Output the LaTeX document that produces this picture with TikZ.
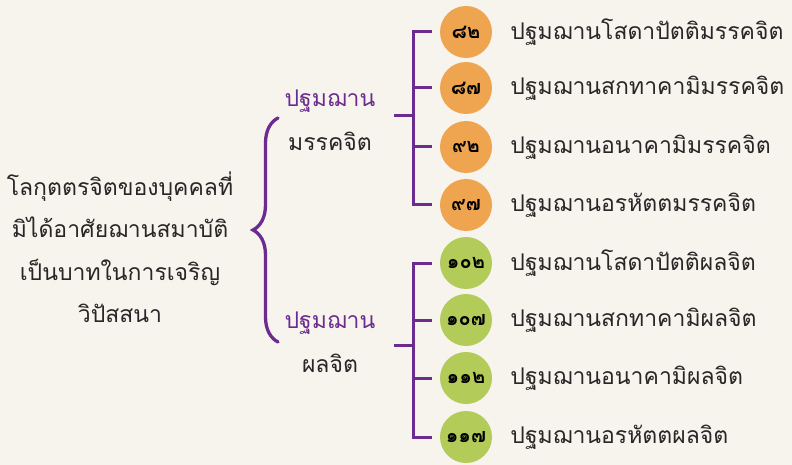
\documentclass[tikz,border=0pt]{standalone}
\usepackage{fontspec}
\newfontfamily\thaifont[Script=Thai]{Loma}
\usetikzlibrary{decorations.pathreplacing, positioning}
\definecolor{bgcream}{HTML}{F7F4EE}
\definecolor{darkpurple}{HTML}{6C2C8F}
\definecolor{orangeball}{HTML}{EFA550}
\definecolor{greenball}{HTML}{B3CB58}
\definecolor{inkgray}{HTML}{2A2627}
\tikzset{
	ball/.style={circle, minimum size=52pt, inner sep=0pt, font=\thaifont\fontsize{20}{20}\bfseries\selectfont},
	item/.style={anchor=west, inner sep=0pt, text=inkgray, font=\thaifont\fontsize{23}{27}\selectfont},
	head/.style={inner sep=0pt, text=darkpurple, font=\thaifont\fontsize{23}{27}\selectfont},
	tail/.style={inner sep=0pt, text=inkgray, font=\thaifont\fontsize{23}{27}\selectfont},
	fork/.style={darkpurple, line width=3pt},
}

\begin{document}
\begin{tikzpicture}[x=1pt, y=-1pt]
		\fill [bgcream] (0,0) rectangle (792,465);
		\useasboundingbox (0,0) rectangle (792,465);
		
		\node [align=center, inner sep=0pt, text=inkgray, font=\thaifont\fontsize{23}{42.5}\selectfont] (cause) at (120,247)
			{โลกุตตรจิตของบุคคลที่\\มิได้อาศัยฌานสมาบัติ\\เป็นบาทในการเจริญ\\วิปัสสนา};
		\draw [fork, line width=3.3pt, line cap=round, decorate, decoration={brace, amplitude=25pt}] (278,342) -- (278,118);
		
		\node [head] (magghead) at (330,101) {ปฐมฌาน};
		\node [tail] (maggtail) at (330,141) {มรรคจิต};
		\node [head] (phalahead) at (330,323) {ปฐมฌาน};
		\node [tail] (phalatail) at (330,363) {ผลจิต};
		
		\foreach \n/\y/\num/\txt in {1/32/๘๒/ปฐมฌานโสดาปัตติมรรคจิต, 2/88/๘๗/ปฐมฌานสกทาคามิมรรคจิต, 3/147/๙๒/ปฐมฌานอนาคามิมรรคจิต, 4/205/๙๗/ปฐมฌานอรหัตตมรรคจิต}{
			\node [ball, fill=orangeball] (m\n) at (466,\y) {\num};
			\node [item, right=18pt of m\n] (mt\n) {\txt};
		}
		\foreach \n/\y/\num/\txt in {1/263/๑๐๒/ปฐมฌานโสดาปัตติผลจิต, 2/320/๑๐๗/ปฐมฌานสกทาคามิผลจิต, 3/378/๑๑๒/ปฐมฌานอนาคามิผลจิต, 4/437/๑๑๗/ปฐมฌานอรหัตตผลจิต}{
			\node [ball, fill=greenball] (p\n) at (466,\y) {\num};
			\node [item, right=18pt of p\n] (pt\n) {\txt};
		}
		
		\coordinate (mfork) at (413,116);
		\coordinate (pfork) at (413,345);
		\draw [fork] ([xshift=-8pt]m1.west) -- (mfork |- m1) -- (mfork |- m4) -- ([xshift=-8pt]m4.west);
		\draw [fork] ([xshift=-19pt]mfork) -- (mfork);
		\foreach \n in {2,3}{
			\draw [fork] (mfork |- m\n) -- ([xshift=-8pt]m\n.west);
		}
		\draw [fork] ([xshift=-8pt]p1.west) -- (pfork |- p1) -- (pfork |- p4) -- ([xshift=-8pt]p4.west);
		\draw [fork] ([xshift=-19pt]pfork) -- (pfork);
		\foreach \n in {2,3}{
			\draw [fork] (pfork |- p\n) -- ([xshift=-8pt]p\n.west);
		}
		
	\end{tikzpicture}
\end{document}
